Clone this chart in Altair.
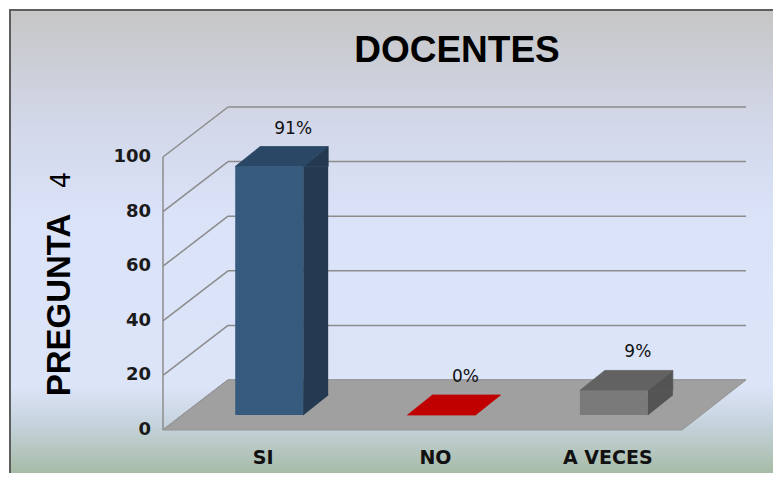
import altair as alt
import pandas as pd

# ---- data ----
categories = ["SI", "NO", "A VECES"]
values = [91, 0, 9]
value_labels = ["91%", "0%", "9%"]
front_colors = ["#375b7e", "#c00000", "#7a7a7a"]
top_colors = ["#2a4866", "#c00000", "#626262"]
side_colors = ["#243a50", "#a00000", "#545454"]
y_ticks = [0, 20, 40, 60, 80, 100]
title_text = "DOCENTES"
y_title = "PREGUNTA"
y_title_num = "4"

# ---- geometry / style (pixels) ----
W, H = 517, 273
FRONT_DX, FRONT_DY = -20, 15      # front wall plane relative to bar plane
BACK_DX, BACK_DY = 45, -35        # back wall plane relative to bar plane
BACK_RIGHT = 563
FLOOR_FRONT_RIGHT = 499
BAR_DX, BAR_DY = 25, -20          # bar depth
HALF = 34                          # half bar width
GRID = "#8c8c8c"

df = pd.DataFrame({
    "cat": categories, "value": values, "label": value_labels,
    "front": front_colors, "top": top_colors, "side": side_colors,
})
ticks = pd.DataFrame({"v": y_ticks})
one = pd.DataFrame({"k": [0]})

xs = alt.Scale(domain=categories, paddingInner=0.606, paddingOuter=0.303)
ys = alt.Scale(domain=[0, 100], nice=False, zero=True)
X = alt.X("cat:N", sort=categories, scale=xs, axis=None)
Y = alt.Y("value:Q", scale=ys, axis=None)
YT = alt.Y("v:Q", scale=ys, axis=None)

bg = alt.LinearGradient(
    gradient="linear", x1=0, x2=0, y1=0, y2=1,
    stops=[
        alt.GradientStop(offset=0.0, color="#c6c6c6"),
        alt.GradientStop(offset=0.25, color="#d3d8ea"),
        alt.GradientStop(offset=0.45, color="#dbe3f9"),
        alt.GradientStop(offset=0.80, color="#dce4f8"),
        alt.GradientStop(offset=0.88, color="#c5d3dc"),
        alt.GradientStop(offset=1.0, color="#a2b79e"),
    ],
)

background = alt.Chart(one).mark_rect(color=bg, stroke="#5e5e5e", strokeWidth=2).encode(
    x=alt.value(-173), x2=alt.value(640), y=alt.value(-132), y2=alt.value(339)
)

back_grid = alt.Chart(ticks).mark_rule(color=GRID, strokeWidth=1.5, yOffset=BACK_DY).encode(
    y=YT, x=alt.value(BACK_DX), x2=alt.value(BACK_RIGHT)
)
diag_grid = alt.Chart(ticks).mark_rule(
    color=GRID, strokeWidth=1.5, yOffset=FRONT_DY, y2Offset=BACK_DY
).encode(
    y=YT, y2="v:Q", x=alt.value(FRONT_DX), x2=alt.value(BACK_DX)
)
front_edge = alt.Chart(one).mark_rule(color=GRID, strokeWidth=1.5).encode(
    x=alt.value(FRONT_DX), y=alt.value(FRONT_DY), y2=alt.value(H + FRONT_DY)
)

floor_path = (
    f"M {FRONT_DX} {FRONT_DY} L {FLOOR_FRONT_RIGHT} {FRONT_DY} "
    f"L {BACK_RIGHT} {BACK_DY} L {BACK_DX} {BACK_DY} Z"
)
floor = alt.Chart(one).mark_point(
    shape=floor_path, size=4, filled=True, opacity=1, color="#a0a0a0",
    stroke="#959595", strokeWidth=1
).encode(x=alt.value(0), y=alt.value(H))

pos = df[df["value"] > 0]

side_rect = alt.Chart(pos).mark_rule(
    strokeWidth=BAR_DX, strokeCap="butt", xOffset=HALF + BAR_DX / 2, y2Offset=BAR_DY
).encode(
    x=X, y=Y, y2=alt.datum(0), color=alt.Color("side:N", scale=None)
)
tri_top = f"M {HALF} 0 L {HALF + BAR_DX} {BAR_DY} L {HALF + BAR_DX} 0 Z"
side_top = alt.Chart(pos).mark_point(
    shape=tri_top, size=4, filled=True, opacity=1, strokeWidth=0.8
).encode(
    x=X, y=Y, fill=alt.Fill("side:N", scale=None), stroke=alt.Stroke("side:N", scale=None)
)
tri_bot = f"M {HALF} 0 L {HALF} {BAR_DY} L {HALF + BAR_DX} {BAR_DY} Z"
side_bot = alt.Chart(pos).mark_point(
    shape=tri_bot, size=4, filled=True, opacity=1, strokeWidth=0.8
).encode(
    x=X, y=alt.value(H), fill=alt.Fill("side:N", scale=None), stroke=alt.Stroke("side:N", scale=None)
)
top_path = f"M {-HALF} 0 L {HALF} 0 L {HALF + BAR_DX} {BAR_DY} L {-HALF + BAR_DX} {BAR_DY} Z"
top_face = alt.Chart(df).mark_point(
    shape=top_path, size=4, filled=True, opacity=1, strokeWidth=0.8
).encode(
    x=X, y=Y, fill=alt.Fill("top:N", scale=None), stroke=alt.Stroke("top:N", scale=None)
)
front_face = alt.Chart(pos).mark_bar(cornerRadius=1).encode(
    x=X, y=Y, y2=alt.datum(0), color=alt.Color("front:N", scale=None)
)

value_text = alt.Chart(df).mark_text(
    dx=24, dy=-38, font="DejaVu Sans", fontSize=17, color="#111111", baseline="middle"
).encode(x=X, y=Y, text="label:N")

cat_text = alt.Chart(df).mark_text(
    dx=-6, font="DejaVu Sans", fontWeight="bold", fontSize=19, color="#111111", baseline="middle"
).encode(x=X, y=alt.value(H + 43), text="cat:N")

tick_text = alt.Chart(ticks).mark_text(
    align="right", baseline="middle", dy=FRONT_DY, font="DejaVu Sans", fontWeight="bold",
    fontSize=18, color="#1a1a1a"
).encode(x=alt.value(-32), y=YT, text="v:Q")

title = alt.Chart(one).mark_text(
    text=title_text, font="Liberation Sans", fontWeight="bold", fontSize=37,
    color="#000000", align="center", baseline="alphabetic"
).encode(x=alt.value(274), y=alt.value(-80))

ytitle = alt.Chart(one).mark_text(
    text=y_title, font="Liberation Sans", fontWeight="bold", fontSize=33, angle=270,
    color="#000000", align="center", baseline="middle"
).encode(x=alt.value(-123), y=alt.value(163))

ytitle_num = alt.Chart(one).mark_text(
    text=y_title_num, font="DejaVu Sans", fontSize=26, angle=270,
    color="#000000", align="center", baseline="middle"
).encode(x=alt.value(-121), y=alt.value(38))

chart = alt.layer(
    background, back_grid, diag_grid, front_edge, floor,
    side_rect, side_top, side_bot, top_face, front_face,
    value_text, cat_text, tick_text, title, ytitle, ytitle_num,
).properties(
    width=W, height=H,
    padding={"left": 175, "top": 134, "right": 73, "bottom": 58},
    autosize=alt.AutoSizeParams(type="none"),
).configure_view(stroke=None).configure(background="white")

chart.save("out.html", embed_options={"renderer": "svg", "actions": False})
